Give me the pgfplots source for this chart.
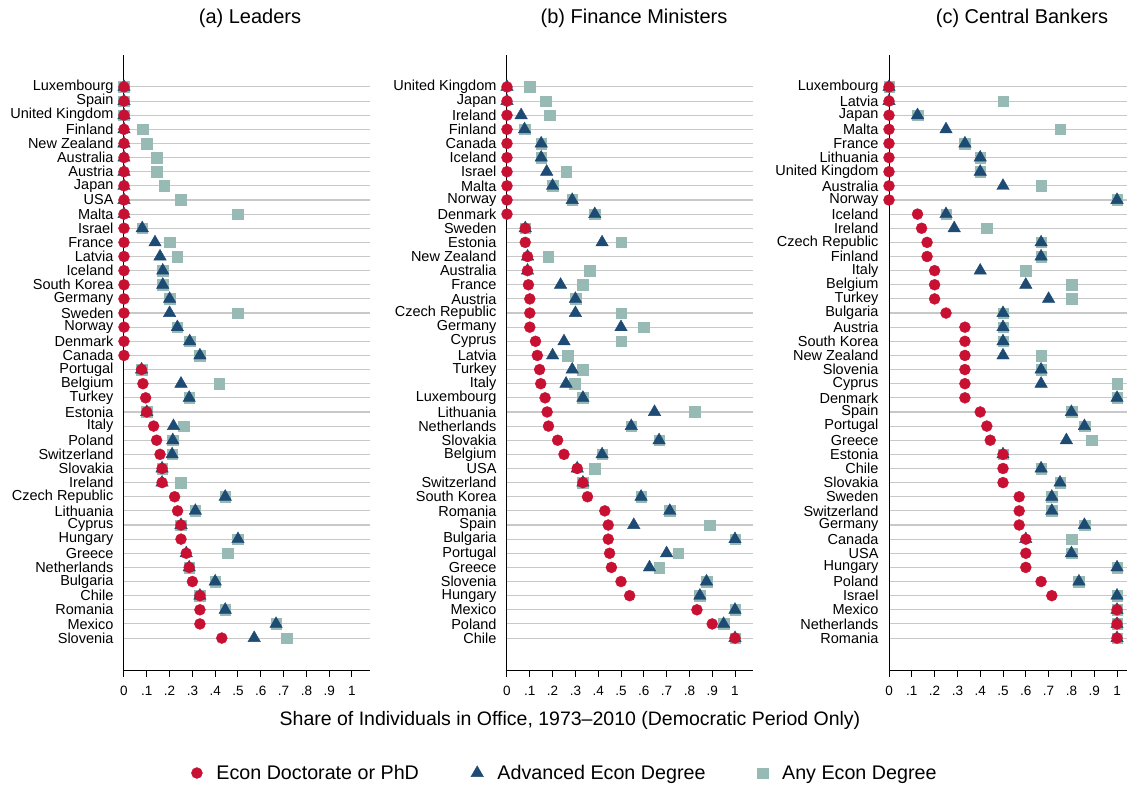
\documentclass[border=0pt]{standalone}
\usepackage{fontspec}
\setmainfont{Liberation Sans}
\usepackage{pgfplots}
\usepackage{pgfplotstable}
\pgfplotsset{compat=1.18}

\definecolor{phdred}{RGB}{200,16,50}
\definecolor{advblue}{RGB}{30,75,115}
\definecolor{anygray}{RGB}{152,186,180}
\definecolor{gridgray}{RGB}{200,200,200}

% idx phd adv any
\pgfplotstableread{
idx phd adv any
1 0 0 0
2 0 0 0
3 0 0 0
4 0 0 0.083
5 0 0 0.1
6 0 0 0.143
7 0 0 0.143
8 0 0 0.176
9 0 0 0.25
10 0 0 0.5
11 0 0.08 0.08
12 0 0.136 0.2
13 0 0.158 0.234
14 0 0.17 0.17
15 0 0.17 0.17
16 0 0.2 0.2
17 0 0.2 0.5
18 0 0.234 0.234
19 0 0.288 0.288
20 0 0.333 0.333
21 0.077 0.077 0.077
22 0.083 0.25 0.417
23 0.095 0.286 0.286
24 0.1 0.1 0.1
25 0.13 0.217 0.261
26 0.143 0.214 0.214
27 0.158 0.211 0.211
28 0.167 0.167 0.167
29 0.167 0.167 0.25
30 0.222 0.444 0.444
31 0.235 0.313 0.313
32 0.25 0.25 0.25
33 0.25 0.5 0.5
34 0.273 0.273 0.455
35 0.286 0.286 0.286
36 0.3 0.4 0.4
37 0.333 0.333 0.333
38 0.333 0.444 0.444
39 0.333 0.667 0.667
40 0.429 0.571 0.714
}\leaders

\pgfplotstableread{
idx phd adv any
1 0 0 0.1
2 0 0 0.171
3 0 0.062 0.187
4 0 0.077 0.077
5 0 0.15 0.15
6 0 0.15 0.15
7 0 0.174 0.26
8 0 0.2 0.2
9 0 0.286 0.286
10 0 0.385 0.385
11 0.08 0.08 0.08
12 0.08 0.417 0.5
13 0.09 0.09 0.18
14 0.09 0.09 0.364
15 0.094 0.235 0.333
16 0.1 0.3 0.3
17 0.1 0.3 0.5
18 0.1 0.5 0.6
19 0.125 0.25 0.5
20 0.133 0.2 0.267
21 0.143 0.286 0.333
22 0.148 0.259 0.296
23 0.167 0.333 0.333
24 0.176 0.647 0.824
25 0.182 0.545 0.545
26 0.222 0.667 0.667
27 0.25 0.417 0.417
28 0.308 0.308 0.385
29 0.333 0.333 0.333
30 0.353 0.588 0.588
31 0.429 0.714 0.714
32 0.444 0.556 0.889
33 0.444 1 1
34 0.45 0.7 0.75
35 0.458 0.625 0.667
36 0.5 0.875 0.875
37 0.538 0.846 0.846
38 0.833 1 1
39 0.9 0.95 0.95
40 1 1 1
}\finmin

\pgfplotstableread{
idx phd adv any
1 0 0 0
2 0 0 0.5
3 0 0.125 0.125
4 0 0.25 0.75
5 0 0.333 0.333
6 0 0.4 0.4
7 0 0.4 0.4
8 0 0.5 0.667
9 0 1 1
10 0.125 0.25 0.25
11 0.143 0.286 0.429
12 0.167 0.667 0.667
13 0.167 0.667 0.667
14 0.2 0.4 0.6
15 0.2 0.6 0.8
16 0.2 0.7 0.8
17 0.25 0.5 0.5
18 0.333 0.5 0.5
19 0.333 0.5 0.5
20 0.333 0.5 0.667
21 0.333 0.667 0.667
22 0.333 0.667 1
23 0.333 1 1
24 0.4 0.8 0.8
25 0.429 0.857 0.857
26 0.444 0.778 0.889
27 0.5 0.5 0.5
28 0.5 0.667 0.667
29 0.5 0.75 0.75
30 0.571 0.714 0.714
31 0.571 0.714 0.714
32 0.571 0.857 0.857
33 0.6 0.6 0.8
34 0.6 0.8 0.8
35 0.6 1 1
36 0.667 0.833 0.833
37 0.714 1 1
38 1 1 1
39 1 1 1
40 1 1 1
}\centbank

\pgfplotsset{
  dotpanel/.style={
    scale only axis,
    width=246.24pt, height=615pt,
    xmin=0, xmax=1.08,
    ymin=-1.26, ymax=42.26,
    y dir=reverse,
    axis lines=left,
    axis line style={-, black, line width=1pt},
    xtick={0,0.1,0.2,0.3,0.4,0.5,0.6,0.7,0.8,0.9,1},
    xticklabels={0,.1,.2,.3,.4,.5,.6,.7,.8,.9,1},
    ytick={1,...,40},
    tick align=outside,
    major tick length=7pt,
    x tick style={black, line width=1pt},
    y tick style={draw=none},
    ymajorgrids=true,
    major grid style={gridgray, line width=1.1pt},
    xticklabel style={font=\fontsize{13.5}{14}\selectfont, yshift=-6pt},
    yticklabel style={font=\fontsize{14.5}{15}\selectfont},
    clip=false,
  },
  anyplot/.style={only marks, mark=square*, mark size=5.3pt, color=anygray},
  advplot/.style={only marks, mark=triangle*, mark size=7.2pt, color=advblue},
  phdplot/.style={only marks, mark=*, mark size=5.5pt, color=phdred},
}

\begin{document}
\begin{tikzpicture}
% (a) Leaders
\begin{axis}[dotpanel, at={(0pt,0pt)},
  yticklabels={Luxembourg,Spain,United Kingdom,Finland,New Zealand,Australia,Austria,Japan,USA,Malta,Israel,France,Latvia,Iceland,South Korea,Germany,Sweden,Norway,Denmark,Canada,Portugal,Belgium,Turkey,Estonia,Italy,Poland,Switzerland,Slovakia,Ireland,Czech Republic,Lithuania,Cyprus,Hungary,Greece,Netherlands,Bulgaria,Chile,Romania,Mexico,Slovenia}]
  \addplot[anyplot] table[x=any, y=idx] {\leaders};
  \addplot[advplot] table[x=adv, y=idx] {\leaders};
  \addplot[phdplot] table[x=phd, y=idx] {\leaders};
\end{axis}
% (b) Finance Ministers
\begin{axis}[dotpanel, at={(383pt,0pt)},
  yticklabels={United Kingdom,Japan,Ireland,Finland,Canada,Iceland,Israel,Malta,Norway,Denmark,Sweden,Estonia,New Zealand,Australia,France,Austria,Czech Republic,Germany,Cyprus,Latvia,Turkey,Italy,Luxembourg,Lithuania,Netherlands,Slovakia,Belgium,USA,Switzerland,South Korea,Romania,Spain,Bulgaria,Portugal,Greece,Slovenia,Hungary,Mexico,Poland,Chile},
  legend columns=3,
  legend style={at={(0.2355,-0.1675)}, anchor=center, draw=none, fill=none,
    font=\fontsize{19.7}{21}\selectfont,
    /tikz/every odd column/.append style={column sep=12pt},
    /tikz/every even column/.append style={column sep=50pt}}]
  \addlegendimage{phdplot}
  \addlegendentry{Econ Doctorate or PhD}
  \addlegendimage{advplot}
  \addlegendentry{Advanced Econ Degree}
  \addlegendimage{anyplot}
  \addlegendentry{Any Econ Degree}
  \addplot[anyplot, forget plot] table[x=any, y=idx] {\finmin};
  \addplot[advplot, forget plot] table[x=adv, y=idx] {\finmin};
  \addplot[phdplot, forget plot] table[x=phd, y=idx] {\finmin};
\end{axis}
% (c) Central Bankers
\begin{axis}[dotpanel, at={(765pt,0pt)}, xmax=1.045, width=238.26pt,
  yticklabels={Luxembourg,Latvia,Japan,Malta,France,Lithuania,United Kingdom,Australia,Norway,Iceland,Ireland,Czech Republic,Finland,Italy,Belgium,Turkey,Bulgaria,Austria,South Korea,New Zealand,Slovenia,Cyprus,Denmark,Spain,Portugal,Greece,Estonia,Chile,Slovakia,Sweden,Switzerland,Germany,Canada,USA,Hungary,Poland,Israel,Mexico,Netherlands,Romania}]
  \addplot[anyplot] table[x=any, y=idx] {\centbank};
  \addplot[advplot] table[x=adv, y=idx] {\centbank};
  \addplot[phdplot] table[x=phd, y=idx] {\centbank};
\end{axis}
\node[font=\fontsize{20}{22}\selectfont] at (126pt,652pt) {(a) Leaders};
\node[font=\fontsize{20}{22}\selectfont] at (510pt,652pt) {(b) Finance Ministers};
\node[font=\fontsize{20}{22}\selectfont] at (898pt,652pt) {(c) Central Bankers};
\node[font=\fontsize{19.5}{21}\selectfont] at (446pt,-50pt) {Share of Individuals in Office, 1973--2010 (Democratic Period Only)};
\pgfresetboundingbox
\path[use as bounding box] (-124pt,-117pt) rectangle (1003pt,670pt);
\end{tikzpicture}
\end{document}
